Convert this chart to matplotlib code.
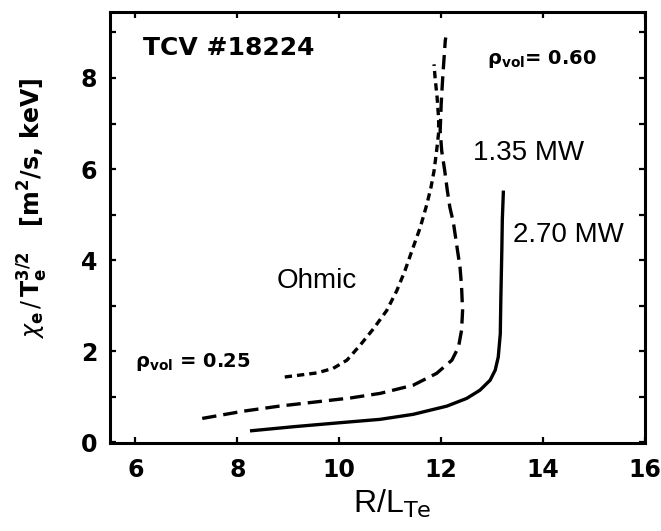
import matplotlib
matplotlib.use("Agg")
import matplotlib.pyplot as plt
from matplotlib.ticker import MultipleLocator

plt.rcParams['mathtext.fontset'] = 'dejavusans'

# Ohmic curve (short dashes)
ohmic_x = [8.93, 9.56, 9.88, 10.15, 10.41, 10.67, 10.93, 11.13, 11.29, 11.45,
           11.59, 11.72, 11.80, 11.86, 11.91, 11.95, 11.95, 11.92, 11.88, 11.86]
ohmic_y = [1.43, 1.52, 1.62, 1.80, 2.13, 2.49, 2.89, 3.33, 3.77, 4.28,
           4.72, 5.23, 5.60, 5.96, 6.40, 6.80, 7.10, 7.57, 8.01, 8.30]

# 1.35 MW curve (long dashes)
mw135_x = [7.31, 8.12, 8.82, 9.52, 10.22, 10.80, 11.45, 11.91, 12.21, 12.34, 12.40,
           12.42, 12.40, 12.37, 12.32, 12.24, 12.17, 12.12, 12.07, 12.01, 11.98,
           12.00, 12.03, 12.08, 12.09]
mw135_y = [0.52, 0.68, 0.79, 0.88, 0.97, 1.07, 1.25, 1.51, 1.80, 2.09, 2.46,
           2.89, 3.41, 3.84, 4.21, 4.82, 5.16, 5.53, 5.96, 6.40, 6.84,
           7.43, 8.01, 8.82, 8.89]

# 2.70 MW curve (solid)
mw270_x = [8.28, 9.12, 9.95, 10.80, 11.45, 12.11, 12.50, 12.76, 12.96, 13.06, 13.12,
           13.16, 13.17, 13.19, 13.20, 13.22]
mw270_y = [0.25, 0.34, 0.42, 0.50, 0.61, 0.79, 0.96, 1.14, 1.36, 1.58, 1.87,
           2.38, 3.11, 4.21, 4.90, 5.49]

fig = plt.figure(figsize=(6.61, 5.31), dpi=100)
ax = fig.add_axes([0.1664, 0.1657, 0.8094, 0.8117])

lw = 2.4
ax.plot(ohmic_x, ohmic_y, color='black', lw=lw, dashes=(2.2, 1.5))
ax.plot(mw135_x, mw135_y, color='black', lw=lw, dashes=(4.3, 2.1))
ax.plot(mw270_x, mw270_y, color='black', lw=lw)

ax.set_xlim(5.5, 16.0)
ax.set_ylim(-0.02, 9.45)
ax.xaxis.set_major_locator(MultipleLocator(2))
ax.yaxis.set_major_locator(MultipleLocator(2))
ax.yaxis.set_minor_locator(MultipleLocator(1))

for s in ax.spines.values():
    s.set_linewidth(2.2)

ax.tick_params(which='both', direction='in', top=True, right=True,
               length=4, width=1.6)
ax.tick_params(axis='x', pad=11)
ax.tick_params(axis='y', pad=9)
for lab in ax.get_xticklabels() + ax.get_yticklabels():
    lab.set_fontfamily('DejaVu Sans')
    lab.set_fontweight('bold')
    lab.set_fontsize(17)

# Annotations
ax.text(6.14, 8.65, 'TCV #18224', fontsize=18, fontweight='bold',
        family='DejaVu Sans', ha='left', va='center')
ax.text(12.90, 8.42, 'ρ$_{\\mathregular{vol}}$= 0.60', fontsize=14, fontweight='bold',
        family='DejaVu Sans', ha='left', va='center')
ax.text(12.63, 6.36, '1.35 MW', fontsize=20, family='Liberation Sans',
        ha='left', va='center')
ax.text(13.41, 4.56, '2.70 MW', fontsize=20, family='Liberation Sans',
        ha='left', va='center')
ax.text(9.56, 3.53, 'Ohmic', fontsize=20, family='Liberation Sans',
        ha='center', va='center')
ax.text(5.99, 1.75, 'ρ$_{\\mathregular{vol}}$ = 0.25', fontsize=14, fontweight='bold',
        family='DejaVu Sans', ha='left', va='center')

fig.text(33 / 661, 1 - 208 / 531,
         r'$\chi_{\mathbf{e}}\,/\,\mathbf{T}_{\mathbf{e}}^{\mathbf{3/2}}$   [m$^{\mathbf{2}}$/s, keV]',
         rotation=90, fontsize=17, fontweight='bold', family='DejaVu Sans',
         ha='center', va='center')
fig.text(392 / 661, 1 - 513 / 531, r'R/L$_{\rm Te}$', fontsize=23,
         family='Liberation Sans', ha='center', va='baseline')

fig.savefig('out.png', dpi=100)
